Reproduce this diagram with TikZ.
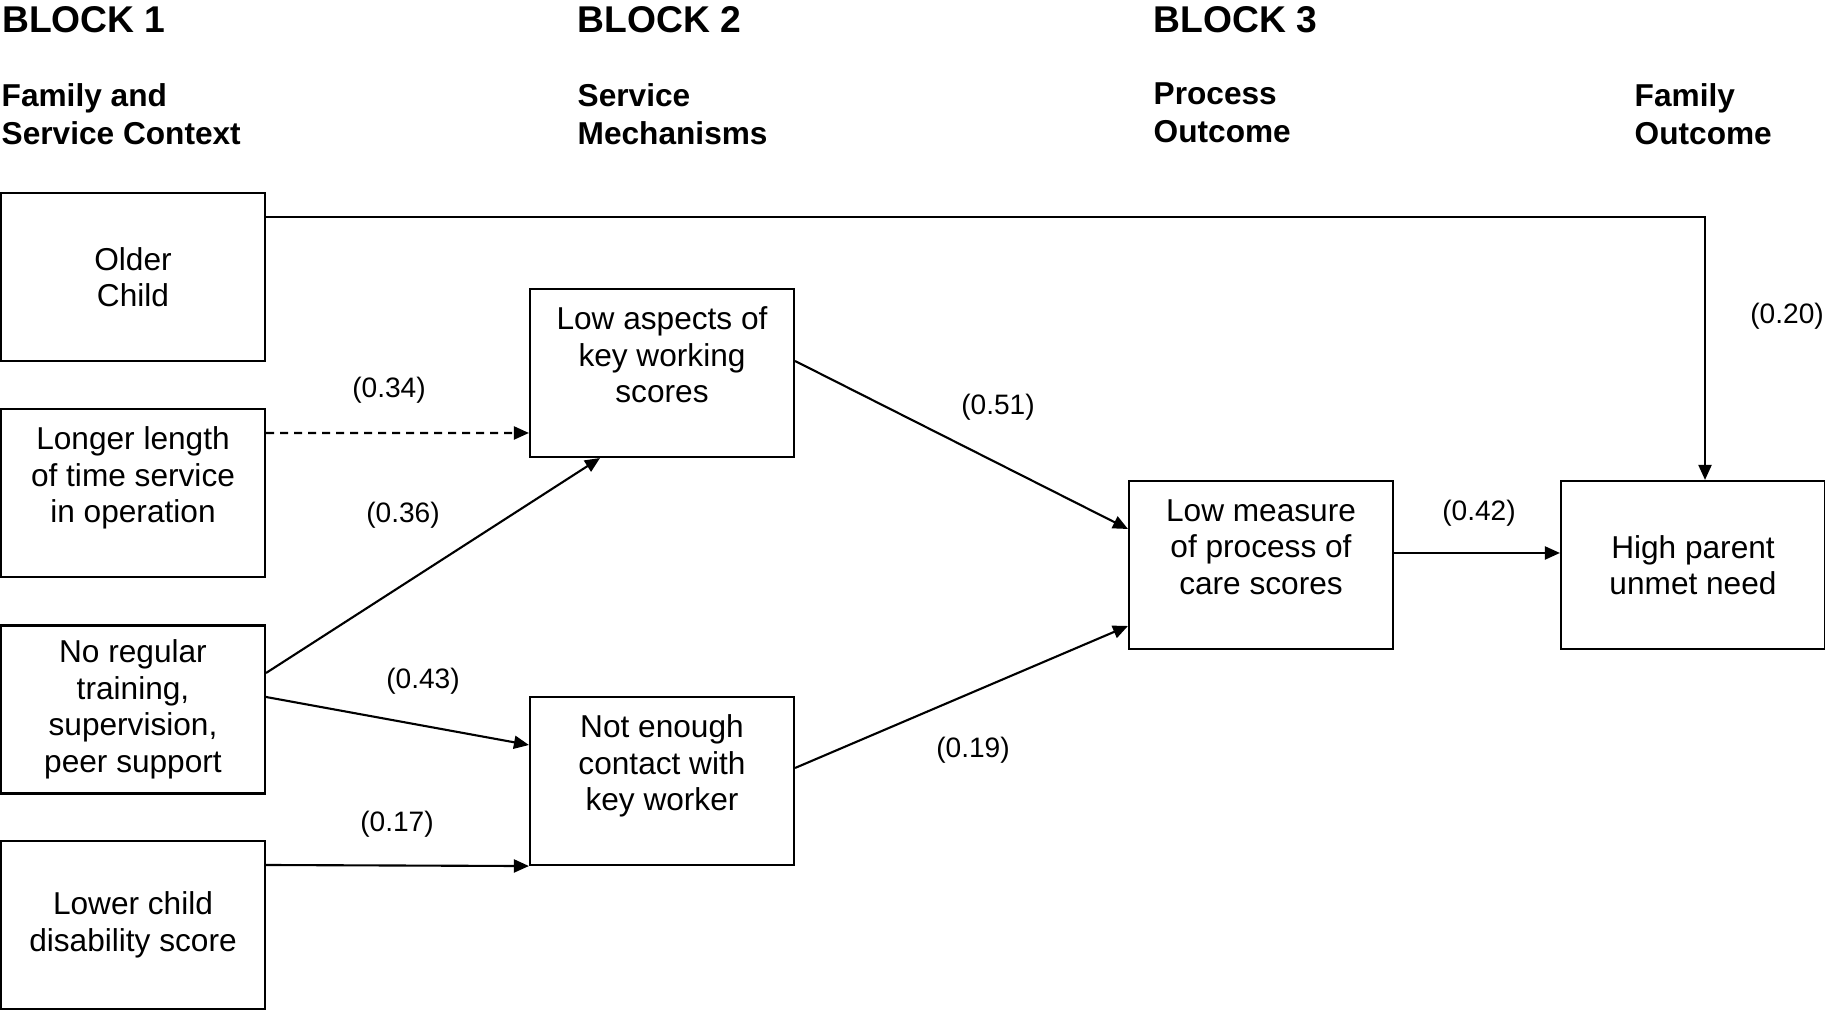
\documentclass[tikz,border=0pt]{standalone}
\usepackage{fontspec}
\setmainfont{Liberation Sans}
\usetikzlibrary{arrows.meta}

\begin{document}
\begin{tikzpicture}[
		box/.style={draw, line width=0.6pt, minimum width=2.64cm, minimum height=1.68cm, inner sep=0pt, align=center, font=\fontsize{9}{10.4}\selectfont},
		coef/.style={inner sep=0pt, font=\fontsize{8}{9.6}\selectfont},
		block/.style={anchor=base west, inner sep=0pt, font=\fontsize{10.6}{12.7}\selectfont\bfseries},
		head/.style={anchor=north west, inner sep=0pt, align=left, font=\fontsize{9}{10.8}\selectfont\bfseries},
		link/.style={line width=0.6pt, -{Triangle[length=1.5mm, width=1.3mm]}}
	]
		\useasboundingbox (0,0) rectangle (18.25,10.11);

		% headings
		\node[block] (b1) at (0.015,9.78) {BLOCK 1};
		\node[block] (b2) at (5.77,9.78) {BLOCK 2};
		\node[block] (b3) at (11.53,9.78) {BLOCK 3};

		\node[head] (h1) at (0.01,9.285) {Family and\\Service Context};
		\node[head] (h2) at (5.77,9.285) {Service\\Mechanisms};
		\node[head] (h3) at (11.53,9.285) {Process\\Outcome};
		\node[head] (h4) at (16.34,9.285) {Family\\Outcome};

		% boxes
		\node[box] (older) at (1.33,7.34) {Older\\Child};
		\node[box] (longer) at (1.33,5.18) {Longer length\\of time service\\in operation\\\mbox{}};
		\node[box] (training) at (1.33,3.015) {No regular\\training,\\supervision,\\peer support};
		\node[box] (lowerchild) at (1.33,0.86) {Lower child\\disability score};

		\node[box] (keywork) at (6.62,6.38) {Low aspects of\\key working\\scores\\\mbox{}};
		\node[box] (contact) at (6.62,2.30) {Not enough\\contact with\\key worker\\\mbox{}};

		\node[box] (process) at (12.61,4.46) {Low measure\\of process of\\care scores\\\mbox{}};
		\node[box] (unmet) at (16.93,4.46) {High parent\\unmet need};

		% paths
		\draw[link] ([yshift=6mm]older.east) -| ([xshift=1.2mm]unmet.north);
		\draw[link, dash pattern=on 0.8mm off 0.6mm] ([yshift=6mm]longer.east) -- ([yshift=-6mm]keywork.west);
		\draw[link] ([yshift=3.65mm]training.east) -- ([xshift=-6.2mm]keywork.south);
		\draw[link] ([yshift=1.25mm]training.east) -- ([yshift=3.6mm]contact.west);
		\draw[link] ([yshift=6mm]lowerchild.east) -- (contact.south west);
		\draw[link] ([yshift=1.2mm]keywork.east) -- ([yshift=3.6mm]process.west);
		\draw[link] ([yshift=1.3mm]contact.east) -- ([yshift=-6.1mm]process.west);
		\draw[link] ([yshift=1.2mm]process.east) -- ([yshift=1.2mm]unmet.west);

		% coefficients
		\node[coef] (w034) at (3.89,6.21) {(0.34)};
		\node[coef] (w036) at (4.03,4.96) {(0.36)};
		\node[coef] (w043) at (4.23,3.30) {(0.43)};
		\node[coef] (w017) at (3.97,1.87) {(0.17)};
		\node[coef] (w051) at (9.98,6.04) {(0.51)};
		\node[coef] (w019) at (9.73,2.61) {(0.19)};
		\node[coef] (w042) at (14.79,4.98) {(0.42)};
		\node[coef] (w020) at (17.87,6.95) {(0.20)};

	\end{tikzpicture}
\end{document}
